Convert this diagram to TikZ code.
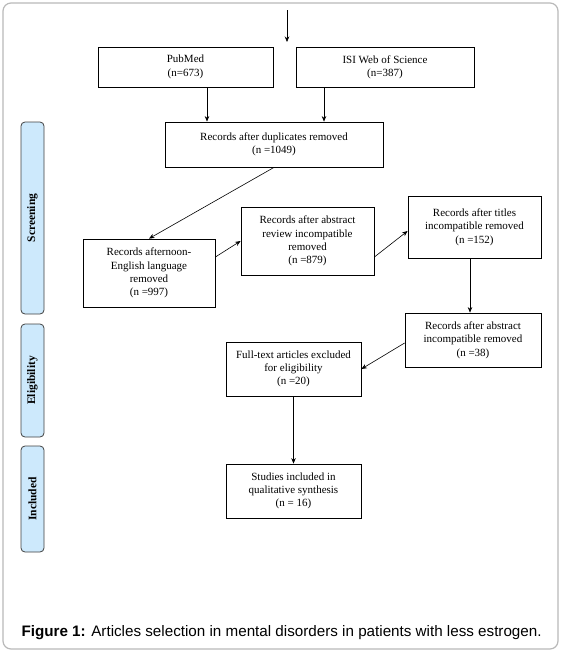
\documentclass[tikz,border=0pt]{standalone}
\usepackage{fontspec}
\setmainfont{Liberation Serif}
\newfontfamily\capfont{Liberation Sans}
\usetikzlibrary{arrows.meta}
\definecolor{tabblue}{HTML}{CDE9FC}

\begin{document}
\begin{tikzpicture}[x=1pt,y=-1pt,>={Stealth[length=5.5pt,width=4.5pt]},
  font=\fontsize{11}{13.3}\selectfont,
  box/.style={draw,line width=0.8pt,align=center,inner sep=2pt},
  tab/.style={draw=black!75,fill=tabblue,rounded corners=4pt,line width=0.8pt,
    minimum height=23pt,rotate=90,font=\fontsize{11.5}{13}\selectfont\bfseries},
  arr/.style={->,line width=0.6pt}]
  \useasboundingbox (0,0) rectangle (562,653);
  \draw[gray!55,line width=1.2pt,rounded corners=8pt] (3,3) rectangle (558,649);
  % sources
  \coordinate (start) at (287,10);
  \coordinate (startend) at (287,42);
  \node[box,minimum width=175pt,minimum height=40pt] (pubmed) at (185.5,67) {PubMed\\(n=673)};
  \node[box,minimum width=178pt,minimum height=40pt] (isi) at (385,67) {ISI Web of Science\\(n=387)};
  % screening
  \node[box,minimum width=218pt,minimum height=45pt] (dedup) at (274,144.5) {Records after duplicates removed\\(n =1049)};
  \node[box,minimum width=132pt,minimum height=68pt] (lang) at (149,273) {Records afternoon-\\English language\\removed\\(n =997)};
  \node[box,minimum width=133pt,minimum height=68pt] (absrev) at (307.5,241) {Records after abstract\\review incompatible\\removed\\(n =879)};
  \node[box,minimum width=133pt,minimum height=62pt] (titles) at (474.5,227) {Records after titles\\incompatible removed\\(n =152)};
  % eligibility and included
  \node[box,minimum width=136pt,minimum height=54pt] (absinc) at (473,340) {Records after abstract\\incompatible removed\\(n =38)};
  \node[box,minimum width=135pt,minimum height=54pt] (fulltext) at (293.5,369) {Full-text articles excluded\\for eligibility\\(n =20)};
  \node[box,minimum width=135pt,minimum height=54pt] (incl) at (293.5,491) {Studies included in\\qualitative synthesis\\(n = 16)};
  % phase tabs
  \node[tab,minimum width=192pt] (screentab) at (32.5,218) {Screening};
  \node[tab,minimum width=113pt] (eligtab) at (32.5,380.5) {Eligibility};
  \node[tab,minimum width=106pt] (incltab) at (32.5,499) {Included};
  % arrows
  \draw[arr] (start) -- (startend);
  \draw[arr] ([xshift=21.5pt]pubmed.south) -- ([xshift=21.5pt]pubmed.south |- dedup.north);
  \draw[arr] ([xshift=-61pt]isi.south) -- ([xshift=-61pt]isi.south |- dedup.north);
  \draw[arr] (dedup.south) -- (lang.north);
  \draw[arr] ([yshift=16pt]lang.east) -- (absrev.west);
  \draw[arr] ([yshift=-16pt]absrev.east) -- ([yshift=-4pt]titles.west);
  \draw[arr] ([xshift=-4.5pt]titles.south) -- ([xshift=-4.5pt]titles.south |- absinc.north);
  \draw[arr] ([yshift=-3pt]absinc.west) -- (fulltext.east);
  \draw[arr] (fulltext.south) -- (incl.north);
  % caption
  \node[anchor=west,font=\capfont\fontsize{15.2}{18}\selectfont] (caption) at (18,633)
    {\textbf{Figure 1:} Articles selection in mental disorders in patients with less estrogen.};
\end{tikzpicture}
\end{document}
